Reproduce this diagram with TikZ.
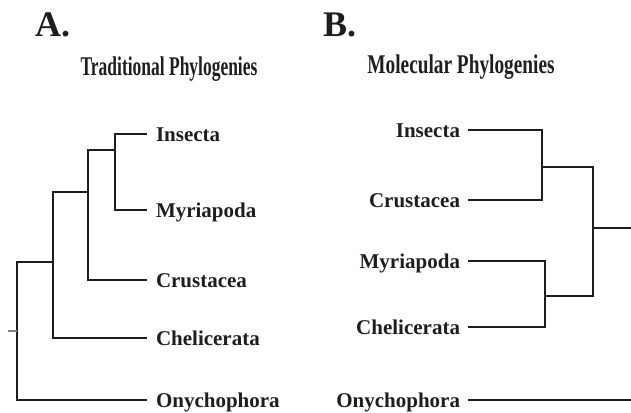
\documentclass[tikz,border=0pt]{standalone}
\usepackage{fontspec}
\setmainfont{Liberation Serif}
\definecolor{lc}{HTML}{1E1E1E}
\begin{document}
\begin{tikzpicture}[x=1pt,y=-1pt,
  lab/.style={font=\fontsize{21}{24}\selectfont\bfseries, inner sep=0pt, outer sep=0pt, text height=14pt, text depth=0pt, text=lc},
  br/.style={line width=2.6pt, draw=lc, line join=miter},
  tickline/.style={line width=1.2pt, draw=gray},
  ttl/.style={font=\fontsize{27}{30}\selectfont\bfseries, inner sep=0pt, anchor=base, text=lc},
  panel/.style={font=\fontsize{36}{40}\selectfont\bfseries, inner sep=0pt, anchor=base west, text=lc}]
\useasboundingbox (0,0) rectangle (631,412);
% headings
\node[panel] (pA) at (35,37) {A.};
\node[panel] (pB) at (323,37) {B.};
\node[ttl] (tA) at (169,75) {\scalebox{0.647}[1]{Traditional Phylogenies}};
\node[ttl] (tB) at (461,74) {\scalebox{0.715}[1]{Molecular Phylogenies}};
% panel A labels
\node[lab, anchor=west] (aIns) at (156,134) {Insecta};
\node[lab, anchor=west] (aMyr) at (156,210) {Myriapoda};
\node[lab, anchor=west] (aCru) at (156,280) {Crustacea};
\node[lab, anchor=west] (aChe) at (156,338) {Chelicerata};
\node[lab, anchor=west] (aOny) at (156,400) {Onychophora};
\coordinate (a1) at (115,150);
\coordinate (a2) at (88,192);
\coordinate (a3) at (53,262);
\coordinate (a4) at (17,331);
\coordinate (a0) at (8,331);
\draw[br] ([xshift=-9pt]aIns.west) -| (a1) |- ([xshift=-9pt]aMyr.west);
\draw[br] (a1) -| (a2) |- ([xshift=-9pt]aCru.west);
\draw[br] (a2) -| (a3) |- ([xshift=-9pt]aChe.west);
\draw[br] (a3) -| (a4) |- ([xshift=-9pt]aOny.west);
\draw[tickline] (a0) -- (a4);
% panel B labels
\node[lab, anchor=east] (bIns) at (460,130) {Insecta};
\node[lab, anchor=east] (bCru) at (460,200) {Crustacea};
\node[lab, anchor=east] (bMyr) at (460,261) {Myriapoda};
\node[lab, anchor=east] (bChe) at (460,327) {Chelicerata};
\node[lab, anchor=east] (bOny) at (460,400) {Onychophora};
\coordinate (b1) at (542,167);
\coordinate (b2) at (545,296);
\coordinate (b3) at (593,228);
\coordinate (bR) at (632,228);
\coordinate (bO) at (632,400);
\draw[br] ([xshift=8pt]bIns.east) -| (b1) |- ([xshift=8pt]bCru.east);
\draw[br] ([xshift=8pt]bMyr.east) -| (b2) |- ([xshift=8pt]bChe.east);
\draw[br] (b1) -| (b3) |- (b2);
\draw[br] (b3) -- (bR);
\draw[br] ([xshift=8pt]bOny.east) -- (bO);
\end{tikzpicture}
\end{document}
